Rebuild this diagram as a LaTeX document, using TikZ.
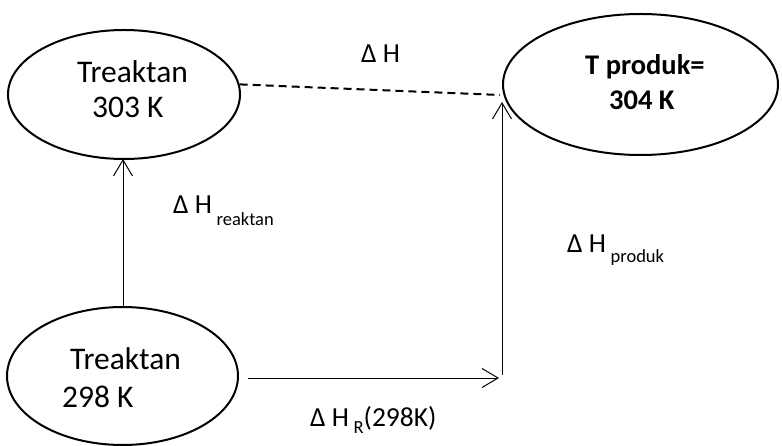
\documentclass[tikz,border=0pt]{standalone}
\usepackage{fontspec}
\setmainfont{Carlito}
\usetikzlibrary{arrows.meta,shapes.geometric}

\newcommand{\bigtxt}{\fontsize{31.5}{36}\selectfont}
\newcommand{\boldtxt}{\fontsize{28.5}{34}\selectfont\bfseries}
\newcommand{\lbltxt}{\fontsize{27.5}{32}\selectfont}
\newcommand{\subtxt}{\fontsize{18.5}{22}\selectfont}
\newcommand{\dsub}[2]{\raisebox{-#1pt}{\subtxt #2}}

\begin{document}
\begin{tikzpicture}[x=1pt,y=-1pt,
  state/.style={draw, ellipse, line width=2pt, inner sep=0pt},
  txt/.style={inner sep=0pt, anchor=base west},
  flow/.style={line width=1pt, -{Straight Barb[length=16pt,width=19pt,line width=1pt]}},
  link/.style={line width=2pt, dash pattern=on 8pt off 5pt}]
\useasboundingbox (0,0) rectangle (782,446);

% the three states
\node[state, minimum width=232pt, minimum height=129pt] (r303) at (124,94.5) {};
\node[state, minimum width=275pt, minimum height=141pt] (p304) at (640.5,84.5) {};
\node[state, minimum width=231pt, minimum height=138pt] (r298) at (122.5,376) {};

% state texts
\node[txt] (r303a) at (77,83) {\bigtxt Treaktan};
\node[txt] (r303b) at (92,118) {\bigtxt 303 K};
\node[txt] (p304a) at (585,75) {\boldtxt T produk=};
\node[txt] (p304b) at (609,110) {\boldtxt 304 K};
\node[txt] (r298a) at (70,370) {\bigtxt Treaktan};
\node[txt] (r298b) at (62,407) {\bigtxt 298 K};

% path points
\coordinate (dEnd) at (500,95);
\coordinate (hStart) at (248,378);
\coordinate (hEnd) at (499,378);
\coordinate (corner) at (502,375);
\coordinate (vEnd) at (502,102);

% connectors
\draw[link] (r303.5) -- (dEnd);
\draw[flow] (r298.north -| 123,0) -- (123,159);
\draw[flow] (hStart) -- (hEnd);
\draw[flow] (corner) -- (vEnd);

% enthalpy labels
\node[txt] (dH) at (361,63) {\lbltxt Δ H};
\node[txt] (dHr) at (173,214) {\lbltxt Δ H\,\dsub{12}{reaktan}};
\node[txt] (dHp) at (567,253) {\lbltxt Δ H\,\dsub{10}{produk}};
\node[txt] (dHR) at (310,426) {\lbltxt Δ H\,\dsub{7}{R}(298K)};
\end{tikzpicture}
\end{document}
